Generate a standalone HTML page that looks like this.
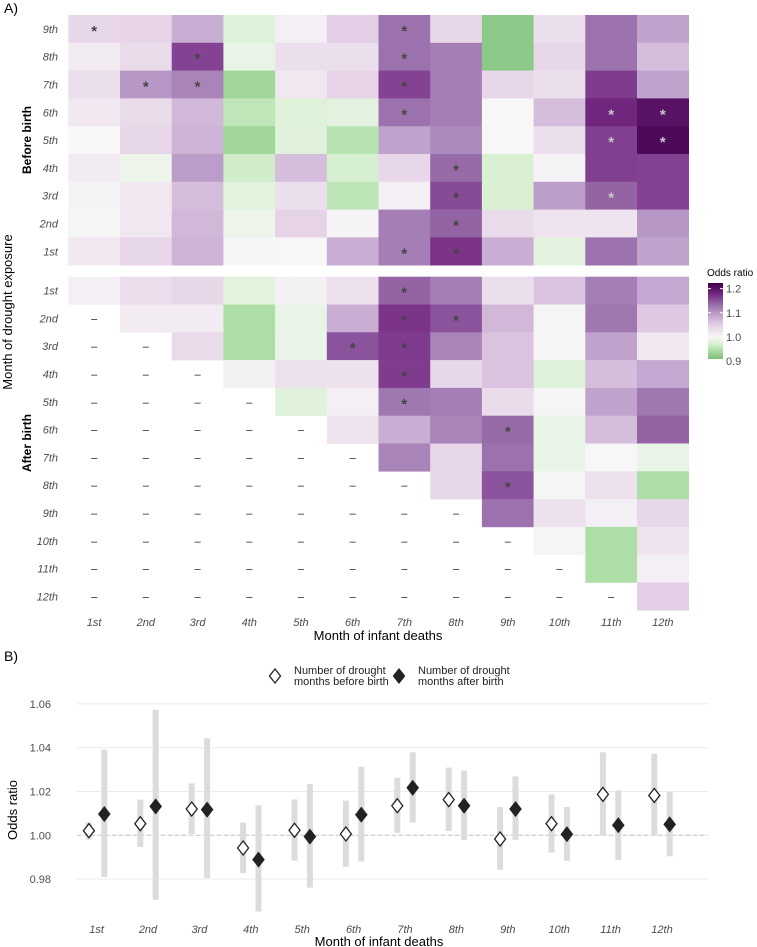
<!DOCTYPE html>
<html><head><meta charset="utf-8"><style>
body{margin:0;background:#fff;}
svg{display:block;font-family:"Liberation Sans",sans-serif;}
</style></head><body>
<svg id="chart" width="757" height="947" viewBox="0 0 757 947" xmlns="http://www.w3.org/2000/svg">
<text x="4" y="13" font-size="14" fill="#000">A)</text>
<text x="4" y="661" font-size="14" fill="#000">B)</text>
<g id="heat"></g>
<g id="legend"></g>
<g id="dots"></g>
</svg>
<script>
const months = ["1st","2nd","3rd","4th","5th","6th","7th","8th","9th","10th","11th","12th"];
const beforeRows = ["9th","8th","7th","6th","5th","4th","3rd","2nd","1st"];
// before-birth odds ratios, rows 9th..1st, cols 1st..12th
const beforeVals = [
[1.04,1.045,1.08,0.975,1.01,1.05,1.13,1.04,0.92,1.03,1.13,1.09],
[1.015,1.035,1.16,0.985,1.03,1.03,1.13,1.12,0.92,1.04,1.13,1.065],
[1.03,1.10,1.115,0.935,1.02,1.045,1.16,1.12,1.04,1.03,1.165,1.09],
[1.02,1.035,1.07,0.955,0.975,0.98,1.13,1.12,1.0,1.065,1.18,1.2],
[1.0,1.04,1.075,0.935,0.977,0.95,1.09,1.11,1.0,1.03,1.163,1.21],
[1.015,0.99,1.095,0.965,1.065,0.968,1.04,1.135,0.97,1.005,1.163,1.16],
[1.005,1.02,1.065,0.978,1.03,0.953,1.01,1.155,0.97,1.095,1.14,1.16],
[1.003,1.02,1.07,0.99,1.045,1.005,1.12,1.14,1.035,1.025,1.025,1.10],
[1.02,1.04,1.075,0.998,1.0,1.08,1.12,1.17,1.08,0.98,1.13,1.09]];
// significance: 0 none, 1 dark star, 2 light star
const beforeSig = [
[1,0,0,0,0,0,1,0,0,0,0,0],
[0,0,1,0,0,0,1,0,0,0,0,0],
[0,1,1,0,0,0,1,0,0,0,0,0],
[0,0,0,0,0,0,1,0,0,0,2,2],
[0,0,0,0,0,0,0,0,0,0,2,2],
[0,0,0,0,0,0,0,1,0,0,0,0],
[0,0,0,0,0,0,0,1,0,0,2,0],
[0,0,0,0,0,0,0,1,0,0,0,0],
[0,0,0,0,0,0,1,1,0,0,0,0]];
// after-birth rows 1st..12th, null = not estimable
const afterVals = [
[1.01,1.033,1.04,0.978,1.007,1.028,1.14,1.12,1.03,1.06,1.12,1.085],
[null,1.015,1.015,0.945,0.985,1.08,1.17,1.15,1.07,1.003,1.125,1.055],
[null,null,1.035,0.945,0.988,1.15,1.165,1.115,1.06,1.002,1.09,1.02],
[null,null,null,1.008,1.028,1.028,1.165,1.04,1.06,0.975,1.065,1.085],
[null,null,null,null,0.977,1.01,1.125,1.12,1.035,1.003,1.09,1.125],
[null,null,null,null,null,1.025,1.08,1.115,1.135,0.985,1.065,1.14],
[null,null,null,null,null,null,1.115,1.04,1.13,0.985,1.0,0.985],
[null,null,null,null,null,null,null,1.04,1.15,0.997,1.028,0.945],
[null,null,null,null,null,null,null,null,1.13,1.028,1.01,1.04],
[null,null,null,null,null,null,null,null,null,1.003,0.945,1.025],
[null,null,null,null,null,null,null,null,null,null,0.945,1.01],
[null,null,null,null,null,null,null,null,null,null,null,1.05]];
const afterSig = [
[0,0,0,0,0,0,1,0,0,0,0,0],
[0,0,0,0,0,0,1,1,0,0,0,0],
[0,0,0,0,0,1,1,0,0,0,0,0],
[0,0,0,0,0,0,1,0,0,0,0,0],
[0,0,0,0,0,0,1,0,0,0,0,0],
[0,0,0,0,0,0,0,0,1,0,0,0],
[0,0,0,0,0,0,0,0,0,0,0,0],
[0,0,0,0,0,0,0,0,1,0,0,0],
[0,0,0,0,0,0,0,0,0,0,0,0],
[0,0,0,0,0,0,0,0,0,0,0,0],
[0,0,0,0,0,0,0,0,0,0,0,0],
[0,0,0,0,0,0,0,0,0,0,0,0]];
const legendTicks = [1.2,1.1,1.0,0.9];
// panel B
const orBefore = [1.0021,1.0053,1.012,0.9942,1.0023,1.0006,1.0135,1.0163,0.9983,1.0053,1.0187,1.0182];
const loBefore = [0.998,0.9947,1.0006,0.9827,0.9884,0.9856,1.0011,1.002,0.9842,0.9921,1.0,1.0];
const hiBefore = [1.006,1.0163,1.0237,1.0059,1.0164,1.0158,1.0263,1.0309,1.0129,1.0187,1.0379,1.0373];
const orAfter = [1.0097,1.0132,1.0117,0.9889,0.9994,1.0094,1.0217,1.0135,1.012,1.0005,1.0046,1.005];
const loAfter = [0.981,0.9706,0.9805,0.9652,0.9761,0.988,1.0058,0.9979,0.9979,0.9884,0.9887,0.9904];
const hiAfter = [1.0391,1.0573,1.0443,1.0137,1.0234,1.0313,1.0379,1.0295,1.0269,1.0129,1.0205,1.0198];
const yTicksB = [0.98,1.00,1.02,1.04,1.06];

const NS="http://www.w3.org/2000/svg";
function mk(parent,tag,attrs,text){const e=document.createElementNS(NS,tag);for(const k in attrs)e.setAttribute(k,attrs[k]);if(text!==undefined)e.textContent=text;parent.appendChild(e);return e;}
function hex(h){return [parseInt(h.slice(1,3),16),parseInt(h.slice(3,5),16),parseInt(h.slice(5,7),16)];}
function interp(stops,t){t=Math.max(0,Math.min(1,t));const n=stops.length-1;const i=Math.min(n-1,Math.floor(t*n));const f=t*n-i;const a=hex(stops[i]),b=hex(stops[i+1]);return "rgb("+a.map((v,k)=>Math.round(v+(b[k]-v)*f)).join(",")+")";}
const purp=["#f7f7f7","#e7d4e8","#c2a5cf","#9970ab","#762a83","#40004b"];
const grn=["#f7f7f7","#d9f0d3","#a6dba0","#7fbf7b"];
function color(v){return v>=1?interp(purp,(v-1)/0.22):interp(grn,(1-v)/0.09);}

// heatmap axes
const X0=68.3, CW=51.7, TOP1=15, RH=27.8, TOP2=276.7;
const colX=j=>X0+j*CW;
const heat=document.getElementById('heat');
function drawPanel(vals,sig,rowLabels,top,panel){
  vals.forEach((row,i)=>{
    const y=top+i*RH;
    const lab=mk(heat,'text',{x:58,y:y+RH/2+4,'font-size':11,'font-style':'italic',fill:'#4d4d4d','text-anchor':'end'},rowLabels[i]);
    
    
    row.forEach((v,j)=>{
      const cx=colX(j)+CW/2;
      if(v===null){
        const d=mk(heat,'text',{x:cx,y:y+RH/2+4,'font-size':11,fill:'#222','text-anchor':'middle'},'–');
        
        
        return;
      }
      const r=mk(heat,'rect',{x:colX(j),y:y,width:CW+0.3,height:RH+0.3,fill:color(v)});
      
      
      if(sig[i][j]){
        const s=mk(heat,'text',{x:cx,y:y+RH/2+7,'font-size':15,'font-weight':'bold',fill:sig[i][j]===2?'#c8c8c8':'#444','text-anchor':'middle'},'*');
        
        
      }
    });
  });
}
drawPanel(beforeVals,beforeSig,beforeRows,TOP1,'before-birth');
drawPanel(afterVals,afterSig,months,TOP2,'after-birth');
months.forEach((m,j)=>{
  const t=mk(heat,'text',{x:colX(j)+CW/2,y:626,'font-size':11,'font-style':'italic',fill:'#4d4d4d','text-anchor':'middle'},m);
  
  
});
let t=mk(heat,'text',{x:378,y:640,'font-size':13,fill:'#000','text-anchor':'middle'},'Month of infant deaths');


t=mk(heat,'text',{transform:'translate(31,140) rotate(-90)','font-size':12,'font-weight':'bold',fill:'#000','text-anchor':'middle'},'Before birth');


t=mk(heat,'text',{transform:'translate(31,443) rotate(-90)','font-size':12,'font-weight':'bold',fill:'#000','text-anchor':'middle'},'After birth');


t=mk(heat,'text',{transform:'translate(12,312) rotate(-90)','font-size':13,fill:'#000','text-anchor':'middle'},'Month of drought exposure');



// legend
const lg=document.getElementById('legend');
const LV0=0.908, LV1=1.2236, LY0=359, LY1=283;
const ly=v=>LY0+(v-LV0)/(LV1-LV0)*(LY1-LY0);
const defs=mk(lg,'defs',{});
const grad=mk(defs,'linearGradient',{id:'lgrad',x1:0,y1:1,x2:0,y2:0});
for(let k=0;k<=20;k++){const v=LV0+(LV1-LV0)*k/20;mk(grad,'stop',{offset:(k/20),'stop-color':color(v)});}
t=mk(lg,'text',{x:707,y:276,'font-size':10,fill:'#000'},'Odds ratio');


t=mk(lg,'rect',{x:708,y:LY1,width:15,height:LY0-LY1,fill:'url(#lgrad)'});


legendTicks.forEach(v=>{
  mk(lg,'line',{x1:708,x2:711,y1:ly(v),y2:ly(v),stroke:'#fff','stroke-width':1});
  mk(lg,'line',{x1:720,x2:723,y1:ly(v),y2:ly(v),stroke:'#fff','stroke-width':1});
  const l=mk(lg,'text',{x:726,y:ly(v)+4,'font-size':11,fill:'#4d4d4d'},v.toFixed(1));
  
  
});

// panel B
const dg=document.getElementById('dots');
const bx=i=>96.6+i*51.4;
const by=v=>835.3-(v-1)/0.02*43.8;
yTicksB.forEach(v=>{
  const g=mk(dg,'line',{x1:77,x2:708,y1:by(v),y2:by(v),stroke:'#ebebeb','stroke-width':1});
  
  
  const l=mk(dg,'text',{x:51,y:by(v)+4,'font-size':11,fill:'#4d4d4d','text-anchor':'end'},v.toFixed(2));
  
  
});
t=mk(dg,'line',{x1:77,x2:708,y1:by(1),y2:by(1),stroke:'#c8c8c8','stroke-width':1,'stroke-dasharray':'4,3'});


function diamond(cx,cy,fill,name){
  const p=mk(dg,'polygon',{points:`${cx},${cy-7} ${cx+5.5},${cy} ${cx},${cy+7} ${cx-5.5},${cy}`,fill:fill,stroke:'#222','stroke-width':1.3});
  
  
}
months.forEach((m,i)=>{
  const xb=bx(i)-7.7, xa=bx(i)+7.7;
  let r=mk(dg,'rect',{x:xb-3,y:by(hiBefore[i]),width:6,height:by(loBefore[i])-by(hiBefore[i]),fill:'#dcdcdc'});
  
  
  r=mk(dg,'rect',{x:xa-3,y:by(hiAfter[i]),width:6,height:by(loAfter[i])-by(hiAfter[i]),fill:'#dcdcdc'});
  
  
  diamond(xb,by(orBefore[i]),'#fff','point-before-birth');
  diamond(xa,by(orAfter[i]),'#222','point-after-birth');
  const l=mk(dg,'text',{x:bx(i),y:933,'font-size':11,'font-style':'italic',fill:'#4d4d4d','text-anchor':'middle'},m);
  
  
});
t=mk(dg,'text',{x:379,y:946,'font-size':13,fill:'#000','text-anchor':'middle'},'Month of infant deaths');


t=mk(dg,'text',{transform:'translate(17,810) rotate(-90)','font-size':13,fill:'#000','text-anchor':'middle'},'Odds ratio');


// legend B
diamond(275,676,'#fff','legend-marker-before');
diamond(399,676,'#222','legend-marker-after');
[[294,'Number of drought','months before birth','legend-label-before'],[418,'Number of drought','months after birth','legend-label-after']].forEach(a=>{
  const tx=mk(dg,'text',{x:a[0],y:674,'font-size':11,fill:'#222'});
  
  
  mk(tx,'tspan',{x:a[0],y:674},a[1]);
  mk(tx,'tspan',{x:a[0],y:685},a[2]);
});
</script>
</body></html>
